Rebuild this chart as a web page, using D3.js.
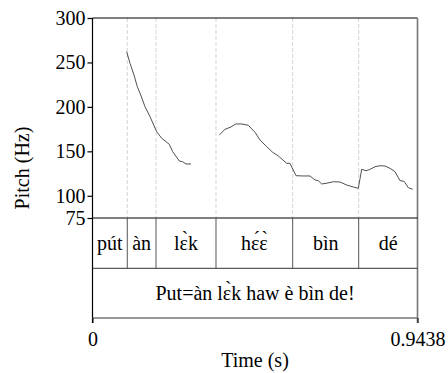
<!DOCTYPE html>
<html>
<head>
<meta charset="utf-8">
<script src="https://cdn.jsdelivr.net/npm/d3@7"></script>
<style>
  html, body { margin: 0; padding: 0; background: #fff; }
  svg { display: block; }
  svg text { font-family: "Liberation Serif", "Times New Roman", Times, "DejaVu Serif", serif !important; fill: #000; }
</style>
</head>
<body>
<svg id="chart" width="448" height="373"></svg>
<script>
// Recording length (s) and pitch range (Hz)
const duration = 0.9438;
const pitchMin = 75, pitchMax = 300;
const pitchTicks = [75, 100, 150, 200, 250, 300];
const timeTicks = [0, 0.9438];

// Word-tier boundaries (s) and labels
const wordBounds = [0, 0.101, 0.1844, 0.3586, 0.5813, 0.773, 0.9438];
const wordLabels = ["pút", "àn", "lɛ̀k", "hɛ́ɛ̀", "bìn", "dé"];
const sentenceLabel = "Put=àn lɛ̀k haw è bìn de!";

// F0 contour, voiced stretch 1
const f0Time1 = [0.0993, 0.1089, 0.1205, 0.1301, 0.1400, 0.1525, 0.1670, 0.1864, 0.2010, 0.2230, 0.2329, 0.2521, 0.2619, 0.2715, 0.2860];
const f0Hz1   = [262.1, 249.0, 235.9, 222.7, 213.4, 200.2, 189.0, 172.1, 164.7, 157.9, 149.6, 139.1, 138.3, 135.8, 135.8];

// F0 contour, voiced stretch 2
const f0Time2 = [0.3682, 0.3848, 0.4022, 0.4159, 0.4333, 0.4524, 0.4719, 0.4864, 0.5059, 0.5233, 0.5396, 0.5640, 0.5735,
                 0.5910, 0.6104, 0.6316, 0.6461, 0.6557, 0.6656, 0.6781, 0.6993, 0.7187, 0.7382, 0.7574, 0.7719,
                 0.7818, 0.7942, 0.8038, 0.8204, 0.8349, 0.8494, 0.8639, 0.8784, 0.8930, 0.9046, 0.9171, 0.9299];
const f0Hz2   = [168.4, 174.8, 177.4, 180.8, 180.8, 179.3, 171.4, 162.8, 155.2, 148.9, 144.8, 136.5, 136.5,
                 122.6, 122.3, 122.3, 117.8, 117.0, 113.3, 114.0, 115.8, 115.5, 112.1, 109.9, 108.4,
                 129.8, 128.2, 129.3, 132.7, 133.8, 133.5, 130.9, 127.1, 117.0, 116.3, 109.1, 107.3];

const svg = d3.select("#chart");
const frameLeft = 92.5, frameRight = 417.5;
const frameTop = 18, pitchBottom = 218, tierMid = 268.3, frameBottom = 318;
const serif = '"Liberation Serif", "Times New Roman", Times, serif';

const x = d3.scaleLinear().domain([0, duration]).range([frameLeft, frameRight]);
const y = d3.scaleLinear().domain([pitchMin, pitchMax]).range([pitchBottom, frameTop]);

// dotted boundary guides through the pitch panel
const inner = wordBounds.slice(1, -1);
svg.append("g").selectAll("line").data(inner).join("line")
  .attr("x1", d => x(d)).attr("x2", d => x(d))
  .attr("y1", frameTop).attr("y2", pitchBottom)
  .attr("stroke", "#d4d4d4").attr("stroke-width", 1)
  .attr("stroke-dasharray", "4,2");

// pitch contour
const line = d3.line().x(d => x(d[0])).y(d => y(d[1]));
[[f0Time1, f0Hz1], [f0Time2, f0Hz2]].forEach(([ts, hs]) => {
  svg.append("path")
    .datum(ts.map((t, i) => [t, hs[i]]))
    .attr("d", line)
    .attr("fill", "none")
    .attr("stroke", "#505050")
    .attr("stroke-width", 1);
});

// frame
svg.append("line").attr("x1", frameLeft).attr("x2", frameRight).attr("y1", frameTop).attr("y2", frameTop)
  .attr("stroke", "#000").attr("stroke-width", 1.2);
svg.append("line").attr("x1", frameLeft).attr("x2", frameLeft).attr("y1", frameTop).attr("y2", frameBottom + 5)
  .attr("stroke", "#000").attr("stroke-width", 1.2);
svg.append("line").attr("x1", frameRight).attr("x2", frameRight).attr("y1", frameTop).attr("y2", frameBottom + 5)
  .attr("stroke", "#777").attr("stroke-width", 1.6);
svg.append("line").attr("x1", frameLeft).attr("x2", frameRight).attr("y1", pitchBottom).attr("y2", pitchBottom)
  .attr("stroke", "#000").attr("stroke-width", 1);
svg.append("line").attr("x1", frameLeft).attr("x2", frameRight).attr("y1", tierMid).attr("y2", tierMid)
  .attr("stroke", "#333").attr("stroke-width", 1);
svg.append("line").attr("x1", frameLeft).attr("x2", frameRight).attr("y1", frameBottom).attr("y2", frameBottom)
  .attr("stroke", "#777").attr("stroke-width", 1.6);

// word tier boundaries
svg.append("g").selectAll("line").data(inner).join("line")
  .attr("x1", d => x(d)).attr("x2", d => x(d))
  .attr("y1", pitchBottom).attr("y2", tierMid)
  .attr("stroke", "#555").attr("stroke-width", 1);

// word labels
svg.append("g").selectAll("text").data(wordLabels).join("text")
  .attr("x", (d, i) => (x(wordBounds[i]) + x(wordBounds[i + 1])) / 2)
  .attr("y", 250)
  .attr("text-anchor", "middle")
  .style("font-family", serif)
  .attr("font-size", 20)
  .text(d => d);

// sentence label
svg.append("text")
  .attr("x", (x(0) + x(duration)) / 2).attr("y", 300)
  .attr("text-anchor", "middle").attr("font-size", 20)
  .style("font-family", serif)
  .text(sentenceLabel);

// pitch axis
const yAxis = svg.append("g")
  .attr("transform", `translate(${frameLeft},0)`)
  .call(d3.axisLeft(y).tickValues(pitchTicks).tickSize(5).tickPadding(2).tickFormat(d3.format("d")));
yAxis.attr("font-family", null).attr("font-size", null);
yAxis.select(".domain").remove();
yAxis.selectAll(".tick line").attr("stroke", "#000").attr("stroke-width", 1.2);
yAxis.selectAll(".tick text").attr("font-size", 20).style("font-family", serif).attr("fill", "#000");

// time axis
const xAxis = svg.append("g")
  .attr("transform", `translate(0,${frameBottom})`)
  .call(d3.axisBottom(x).tickValues(timeTicks).tickSize(5).tickPadding(9).tickFormat(d => d === 0 ? "0" : "0.9438"));
xAxis.attr("font-family", null).attr("font-size", null);
xAxis.select(".domain").remove();
xAxis.selectAll(".tick line").attr("stroke", "#000").attr("stroke-width", 1);
xAxis.selectAll(".tick text").attr("font-size", 20).style("font-family", serif).attr("fill", "#000");

// axis titles
svg.append("text")
  .attr("x", (frameLeft + frameRight) / 2).attr("y", 367)
  .attr("text-anchor", "middle").attr("font-size", 20)
  .style("font-family", serif)
  .text("Time (s)");
svg.append("text")
  .attr("transform", `translate(29,${(frameTop + frameBottom) / 2}) rotate(-90)`)
  .attr("text-anchor", "middle").attr("font-size", 20)
  .style("font-family", serif)
  .text("Pitch (Hz)");
</script>
</body>
</html>
